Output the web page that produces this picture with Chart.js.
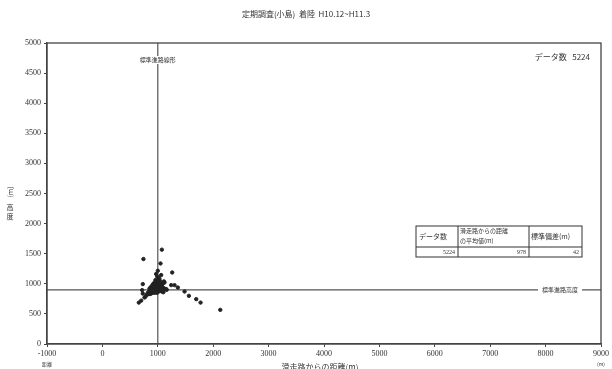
<!DOCTYPE html>
<html>
<head>
<meta charset="utf-8">
<script src="https://cdn.jsdelivr.net/npm/chart.js@4/dist/chart.umd.min.js"></script>
<style>
  html, body { margin: 0; padding: 0; background: #fff; }
  #wrap { width: 612px; height: 369px; position: relative; }
</style>
</head>
<body>
<div id="wrap"><canvas id="scatterChart"></canvas></div>
<script>
// 着陸位置の散布データ (距離 m, 高度 m)
var xValues = [900, 920, 940, 960, 980, 1000, 1020, 1040, 960, 940, 920, 900, 880, 860, 1000, 1020, 980, 960, 1000, 1040,
  1060, 1080, 1100, 1120, 1140, 1160, 1060, 1080, 1100, 1000, 980, 950, 930, 910, 890, 870, 850, 880, 860, 840,
  1010, 990, 1030, 1050, 1070, 1090, 1110, 1000, 970, 950, 930, 910, 1030, 1050, 990, 970, 1010, 820, 800,
  890, 910, 930, 950, 970, 990, 1010, 1030, 900, 920, 940, 960, 980, 1020, 1040, 870, 890, 940, 980, 1060,
  741, 1073, 1049, 1260, 1061, 1000, 958, 729, 718, 729, 657, 760, 837, 1242, 1302, 1362, 1483, 1561, 1694, 1772,
  2128, 1152, 1121, 970, 700, 780];
var yValues = [900, 930, 950, 960, 940, 920, 900, 880, 880, 870, 860, 850, 840, 830, 980, 1000, 1020, 1040, 1060, 1040,
  960, 940, 930, 920, 910, 900, 880, 870, 860, 860, 850, 1000, 1010, 990, 960, 940, 920, 900, 880, 870,
  1100, 1120, 1080, 1010, 990, 1000, 1040, 890, 900, 910, 890, 920, 950, 930, 990, 970, 940, 850, 820,
  920, 940, 960, 980, 990, 1000, 980, 960, 870, 890, 910, 920, 930, 970, 1000, 900, 880, 850, 870, 910,
  1411, 1567, 1338, 1188, 1145, 1217, 1062, 995, 895, 838, 688, 772, 828, 978, 978, 938, 872, 800, 745, 688,
  567, 912, 1022, 1162, 720, 790];

var standardX = 1000;   // 標準進路線形
var standardY = 900;    // 標準進路高度

var xTicks = [-1000, 0, 1000, 2000, 3000, 4000, 5000, 6000, 7000, 8000, 9000];
var yTicks = [0, 500, 1000, 1500, 2000, 2500, 3000, 3500, 4000, 4500, 5000];

var chartTitle = '定期調査(小島)  着陸  H10.12~H11.3';
var countLabel = 'データ数   5224';
var tableHeader = ['データ数', ['滑走路からの距離', 'の平均値(m)'], '標準偏差(m)'];
var tableValues = ['5224', '978', '42'];

var points = xValues.map(function (x, i) { return { x: x, y: yValues[i] }; });

var jp = '"Noto Sans CJK JP", sans-serif';
var num = '"Liberation Serif", serif';

var annotations = {
  id: 'annotations',
  afterDatasetsDraw: function (chart) {
    var ctx = chart.ctx;
    var area = chart.chartArea;
    var xs = chart.scales.x, ys = chart.scales.y;
    ctx.save();

    // 枠
    ctx.strokeStyle = '#444';
    ctx.lineWidth = 1.3;
    ctx.strokeRect(area.left, area.top, area.right - area.left, area.bottom - area.top);

    ctx.fillStyle = '#333';
    ctx.textBaseline = 'middle';

    // タイトル
    ctx.font = '8px ' + jp;
    ctx.textAlign = 'center';
    ctx.fillText(chartTitle, 306, 14);

    // データ数
    ctx.textAlign = 'right';
    ctx.fillText(countLabel, 590, 57);

    // 標準進路線形
    var vx = xs.getPixelForValue(standardX);
    ctx.font = '6px ' + jp;
    ctx.textAlign = 'center';
    var w = ctx.measureText('標準進路線形').width;
    ctx.fillStyle = '#fff';
    ctx.fillRect(vx - w / 2 - 1, 56, w + 2, 8);
    ctx.fillStyle = '#333';
    ctx.fillText('標準進路線形', vx, 60);

    // 標準進路高度
    var hy = ys.getPixelForValue(standardY);
    w = ctx.measureText('標準進路高度').width;
    ctx.fillStyle = '#fff';
    ctx.fillRect(560 - w / 2 - 4, hy - 4, w + 8, 8);
    ctx.fillStyle = '#333';
    ctx.fillText('標準進路高度', 560, hy);

    // 表
    var tx = [416, 458, 529, 582];
    var ty = [226, 247, 257];
    ctx.fillStyle = '#fff';
    ctx.fillRect(tx[0], ty[0], tx[3] - tx[0], ty[2] - ty[0]);
    ctx.strokeStyle = '#333';
    ctx.lineWidth = 1;
    ctx.strokeRect(tx[0], ty[0], tx[3] - tx[0], ty[2] - ty[0]);
    ctx.beginPath();
    ctx.moveTo(tx[0], ty[1]); ctx.lineTo(tx[3], ty[1]);
    ctx.moveTo(tx[1], ty[0]); ctx.lineTo(tx[1], ty[2]);
    ctx.moveTo(tx[2], ty[0]); ctx.lineTo(tx[2], ty[2]);
    ctx.stroke();
    ctx.fillStyle = '#333';
    ctx.textAlign = 'left';
    ctx.font = '7px ' + jp;
    ctx.fillText(tableHeader[0], tx[0] + 3, 236);
    ctx.font = '6px ' + jp;
    ctx.fillText(tableHeader[1][0], tx[1] + 2, 231);
    ctx.fillText(tableHeader[1][1], tx[1] + 2, 241);
    ctx.font = '7px ' + jp;
    ctx.fillText(tableHeader[2], tx[2] + 2, 236);
    ctx.textAlign = 'right';
    ctx.font = '6px ' + num;
    for (var i = 0; i < 3; i++) {
      ctx.fillText(tableValues[i], tx[i + 1] - 3, 252);
    }

    // 軸タイトル
    ctx.font = '7px ' + jp;
    ctx.textAlign = 'center';
    ctx.save();
    ctx.translate(10, 192);
    ctx.rotate(-Math.PI / 2);
    ctx.fillText('(m)', 0, 0);
    ctx.restore();
    ctx.fillText('高', 10, 207);
    ctx.fillText('度', 10, 216);
    ctx.font = '8px ' + jp;
    ctx.fillText('滑走路からの距離(m)', 320, 367);
    ctx.font = '5px ' + jp;
    ctx.fillText('距離', 47, 364);
    ctx.fillText('(m)', 601, 364);

    ctx.restore();
  }
};

new Chart(document.getElementById('scatterChart'), {
  type: 'scatter',
  data: {
    datasets: [
      {
        label: '着陸位置',
        data: points,
        backgroundColor: '#222',
        borderColor: '#222',
        pointRadius: 1.7,
        pointHoverRadius: 1.7,
        order: 1
      },
      {
        label: '標準進路線形',
        data: [{ x: standardX, y: 0 }, { x: standardX, y: 5000 }],
        showLine: true,
        borderColor: '#555',
        borderWidth: 1.2,
        pointRadius: 0,
        order: 2
      },
      {
        label: '標準進路高度',
        data: [{ x: -1000, y: standardY }, { x: 9000, y: standardY }],
        showLine: true,
        borderColor: '#555',
        borderWidth: 1.2,
        pointRadius: 0,
        order: 2
      }
    ]
  },
  options: {
    responsive: true,
    maintainAspectRatio: false,
    animation: false,
    layout: { padding: { top: 43, right: 11, bottom: 0, left: 0 } },
    plugins: {
      legend: { display: false },
      tooltip: { enabled: false }
    },
    scales: {
      x: {
        type: 'linear',
        min: xTicks[0],
        max: xTicks[xTicks.length - 1],
        afterBuildTicks: function (scale) { scale.ticks = xTicks.map(function (v) { return { value: v }; }); },
        afterFit: function (scale) { scale.height = 25; },
        border: { color: '#444', width: 1.3 },
        grid: { drawOnChartArea: false, tickLength: 3, color: '#444' },
        ticks: { color: '#333', font: { family: num, size: 8 }, padding: 2, maxRotation: 0,
          callback: function (v) { return String(v); } }
      },
      y: {
        min: yTicks[0],
        max: yTicks[yTicks.length - 1],
        afterBuildTicks: function (scale) { scale.ticks = yTicks.map(function (v) { return { value: v }; }); },
        afterFit: function (scale) { scale.width = 47; },
        border: { color: '#444', width: 1.3 },
        grid: { drawOnChartArea: false, tickLength: 3, color: '#444' },
        ticks: { color: '#333', font: { family: num, size: 8 }, padding: 3,
          callback: function (v) { return String(v); } }
      }
    }
  },
  plugins: [annotations]
});
</script>
</body>
</html>
